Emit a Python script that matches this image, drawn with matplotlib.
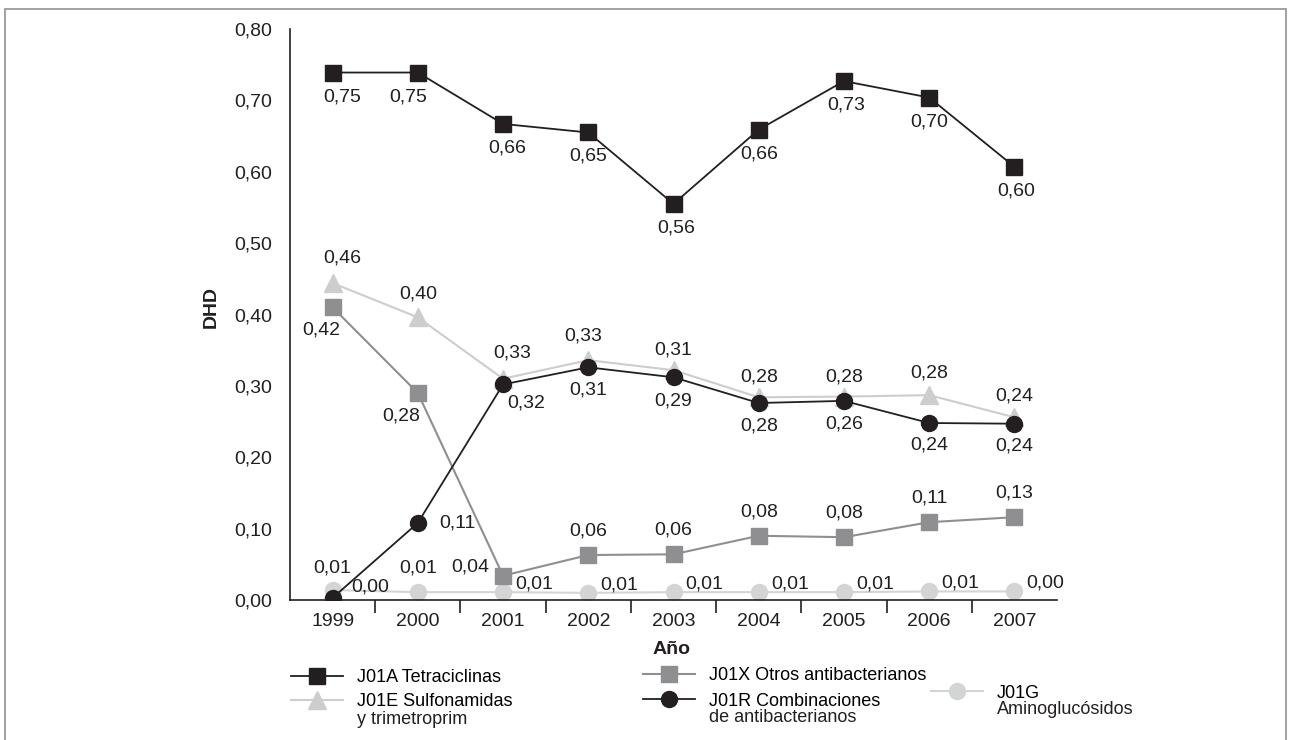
#!/usr/bin/env python

import numpy as np
import matplotlib.pyplot as plt
from matplotlib.lines import Line2D
from matplotlib.patches import Rectangle

plt.rcParams['font.family'] = ['Liberation Sans', 'DejaVu Sans']

# datos
years = ['1999', '2000', '2001', '2002', '2003', '2004', '2005', '2006', '2007']

j01a = [0.739, 0.739, 0.667, 0.655, 0.555, 0.659, 0.727, 0.704, 0.607]
j01a_lab = ['0,75', '0,75', '0,66', '0,65', '0,56', '0,66', '0,73', '0,70', '0,60']

j01e = [0.444, 0.396, 0.310, 0.336, 0.322, 0.284, 0.285, 0.287, 0.256]
j01e_lab = ['0,46', '0,40', '0,33', '0,33', '0,31', '0,28', '0,28', '0,28', '0,24']

j01x = [0.410, 0.290, 0.034, 0.063, 0.064, 0.090, 0.088, 0.109, 0.116]
j01x_lab = ['0,42', '0,28', '0,04', '0,06', '0,06', '0,08', '0,08', '0,11', '0,13']

j01r = [0.003, 0.108, 0.302, 0.326, 0.312, 0.276, 0.279, 0.248, 0.247]
j01r_lab = ['0,00', '0,11', '0,32', '0,31', '0,29', '0,28', '0,26', '0,24', '0,24']

j01g = [0.014, 0.011, 0.011, 0.010, 0.011, 0.011, 0.011, 0.012, 0.012]
j01g_lab = ['0,01', '0,01', '0,01', '0,01', '0,01', '0,01', '0,01', '0,01', '0,00']

x = np.arange(len(years))

BLACK = '#231f20'
GRAY = '#8f8f91'
LGRAY = '#cdcdcd'
LGRAY2 = '#d3d4d6'

fig = plt.figure(figsize=(12.9, 7.4), dpi=100)
ax = fig.add_axes([290 / 1290, 1 - 600 / 740, 767 / 1290, 571 / 740])

# marco exterior
fig.patches.append(Rectangle((4.5 / 1290, -0.05), 1281.5 / 1290, 1.05 - 8.5 / 740,
                             transform=fig.transFigure, fill=False,
                             edgecolor='#9a9a9a', linewidth=1.3))

ax.plot(x, j01g, color=LGRAY2, lw=1.5, marker='o', ms=11.5, mec=LGRAY2, zorder=2)
ax.plot(x, j01e, color=LGRAY, lw=1.5, marker='^', ms=12.5, mec=LGRAY, zorder=3)
ax.plot(x, j01x, color=GRAY, lw=1.5, marker='s', ms=11, mec=GRAY, zorder=4)
ax.plot(x, j01r, color=BLACK, lw=1.3, marker='o', ms=11.5, mec=BLACK, zorder=5)
ax.plot(x, j01a, color=BLACK, lw=1.3, marker='s', ms=11, mec=BLACK, zorder=6)

fs = 14


def etiquetas(vals, labs, dxs, dys):
    for i in range(len(vals)):
        ax.annotate(labs[i], (x[i], vals[i]), xytext=(dxs[i], dys[i]),
                    textcoords='offset pixels', ha='center', va='center',
                    fontsize=fs, color=BLACK, zorder=10)


etiquetas(j01a, j01a_lab, [10, -10, 4, 0, 3, 0, 2, 0, 2], [-24] * 9)
etiquetas(j01e, j01e_lab, [10, 0, 9, -5, 0, 0, 0, 0, 0], [25, 23, 26, 24, 20, 20, 20, 22, 21])
etiquetas(j01x, j01x_lab, [-11, -17, -33, 0, 0, 0, 0, 0, 0], [-23, -23, 9, 24, 24, 24, 24, 24, 24])
etiquetas(j01r, j01r_lab, [38, 40, 23, 0, 0, 0, 0, 0, 0], [11, 0, -19, -23, -24, -23, -23, -22, -22])
etiquetas(j01g, j01g_lab, [0, 0, 31, 31, 31, 31, 31, 31, 31], [22, 24, 8, 8, 8, 8, 8, 8, 8])

# ejes
ax.set_xlim(-0.5, 8.5)
ax.set_ylim(0, 0.8)
ax.spines['top'].set_visible(False)
ax.spines['right'].set_visible(False)
for s in ['left', 'bottom']:
    ax.spines[s].set_color(BLACK)
    ax.spines[s].set_linewidth(1.2)

ax.set_xticks(x)
ax.set_xticklabels(years)
ax.set_xticks(np.arange(0.5, 8, 1), minor=True)
ax.tick_params(axis='x', which='major', length=0, pad=9.5, labelsize=fs, labelcolor=BLACK)
ax.tick_params(axis='x', which='minor', length=9, width=1.2, color=BLACK, direction='out')

yt = np.arange(0, 0.81, 0.1)
ax.set_yticks(yt)
ax.set_yticklabels([('%.2f' % v).replace('.', ',') for v in yt])
ax.tick_params(axis='y', length=0, pad=13, labelsize=fs, labelcolor=BLACK)

ax.set_ylabel('DHD', fontsize=fs, fontweight='bold', color=BLACK)
ax.yaxis.set_label_coords(-0.091, 0.513)
ax.set_xlabel('Año', fontsize=fs, fontweight='bold', color=BLACK)
ax.xaxis.set_label_coords(0.497, -0.072)

# leyenda (el símbolo va alineado con la primera línea del texto)
lfs = 13
leg_font = {'family': ['Liberation Sans Narrow', 'Liberation Sans', 'DejaVu Sans'], 'size': lfs}
entradas = [
    (Line2D([], [], color=BLACK, lw=1.3, marker='s', ms=11, mec=BLACK), 'J01A Tetraciclinas', '', 291, 678),
    (Line2D([], [], color=LGRAY, lw=1.5, marker='^', ms=12.5, mec=LGRAY), 'J01E Sulfonamidas', 'y trimetroprim', 291, 702),
    (Line2D([], [], color=GRAY, lw=1.5, marker='s', ms=11, mec=GRAY), 'J01X Otros antibacterianos', '', 643, 676),
    (Line2D([], [], color=BLACK, lw=1.3, marker='o', ms=11.5, mec=BLACK), 'J01R Combinaciones', 'de antibacterianos', 643, 701),
    (Line2D([], [], color=LGRAY2, lw=1.5, marker='o', ms=11.5, mec=LGRAY2), 'J01G', 'Aminoglucósidos', 931, 693),
]
for h, lab, lab2, px, py in entradas:
    fig.legend([h], [lab], loc='center left', bbox_to_anchor=(px / 1290, 1 - py / 740),
               frameon=False, prop=leg_font, handlelength=52 / 18, handletextpad=14 / 18,
               borderpad=0, borderaxespad=0, labelspacing=0)
    if lab2:
        fig.text((px + 66) / 1290, 1 - (py + 17) / 740, lab2, fontdict=leg_font,
                 ha='left', va='center', color=BLACK)

fig.savefig('out.png', dpi=100)
